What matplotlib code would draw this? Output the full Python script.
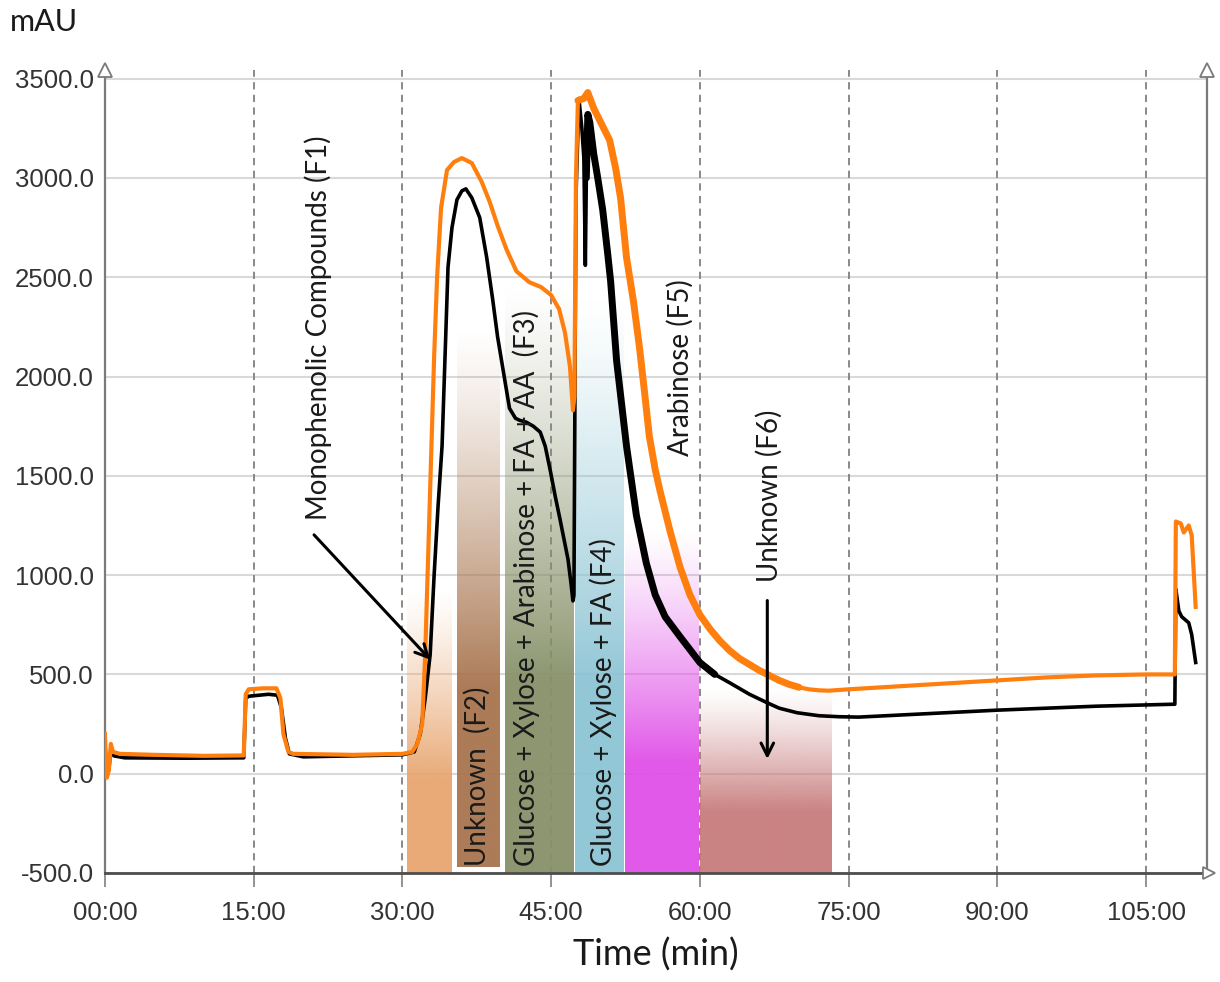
import matplotlib
matplotlib.use("Agg")
import matplotlib.pyplot as plt
import numpy as np

# chromatogram traces (time in min, absorbance in mAU)
black_t = [0, 0.2, 0.4, 0.6, 0.9, 2, 8, 14.0, 14.2, 14.5, 16.5, 17.4, 17.8, 18.2, 18.6, 20, 30,
           31.2, 31.8, 32.3, 32.8, 33.2, 33.6, 34.0, 34.3, 34.6, 35.0, 35.5, 36.0, 36.4, 37.0,
           37.8, 38.5, 39.1, 39.6, 40.1, 40.8, 41.4, 41.8, 42.5, 43.2, 43.9, 44.4, 44.9, 45.4,
           45.9, 46.3, 46.7, 47.0, 47.2, 47.3, 47.5, 47.8, 48.1, 48.3, 48.45, 48.55, 48.7, 48.9,
           49.3, 49.7, 50.2, 50.7, 51.0, 51.6, 52.6, 53.6, 54.6, 55.5, 56.5, 58.0, 60.0, 61.5,
           63.0, 65.0, 66.8, 68.0, 69.8, 72.0, 74.0, 76.0, 80.0, 90.0, 100.0, 107.9, 108.0,
           108.3, 108.6, 109.3, 109.6, 110.0]
black_v = [150, -10, 20, 130, 90, 80, 78, 80, 380, 390, 400, 395, 330, 180, 100, 85, 95,
           110, 200, 380, 600, 1000, 1350, 1650, 2100, 2550, 2750, 2890, 2935, 2945, 2900,
           2800, 2600, 2390, 2200, 2050, 1840, 1790, 1780, 1770, 1750, 1720, 1650, 1530, 1400,
           1280, 1180, 1080, 960, 870, 900, 2900, 3400, 3250, 3100, 2560, 3000, 3320, 3280,
           3120, 3000, 2840, 2620, 2480, 2080, 1650, 1300, 1060, 900, 790, 690, 560, 500,
           458, 400, 357, 330, 307, 292, 287, 285, 295, 320, 340, 350, 930,
           820, 790, 760, 700, 560]

orange_t = [0, 0.1, 0.2, 0.4, 0.6, 0.8, 1.5, 5, 10, 14.0, 14.2, 14.5, 16, 17.3, 17.7, 18.0, 18.5,
            19, 25, 30, 31.0, 31.5, 32.0, 32.3, 32.6, 32.9, 33.2, 33.5, 33.9, 34.5, 35.2, 36.0,
            37.0, 38.0, 38.8, 39.6, 40.5, 41.5, 42.8, 44.0, 45.0, 45.8, 46.4, 46.9, 47.2, 47.35,
            47.5, 47.7, 48.3, 48.7, 49.3, 50.0, 50.9, 51.5, 52.0, 52.6, 53.3, 53.9, 54.4, 54.9,
            55.5, 56.0, 57.0, 58.0, 59.0, 60.0, 61.0, 62.0, 63.0, 64.0, 65.0, 66.0, 67.0, 68.0,
            69.0, 70.0, 71.0, 72.0, 73.0, 75.0, 80.0, 85.0, 90.0, 95.0, 100.0, 105.0, 107.9,
            108.0, 108.5, 108.8, 109.3, 109.6, 110.0]
orange_v = [200, 60, -20, 20, 150, 110, 100, 95, 90, 92, 400, 425, 430, 430, 380, 200, 110,
            100, 95, 100, 110, 150, 250, 600, 1100, 1600, 2100, 2500, 2850, 3040, 3080, 3100,
            3075, 2980, 2880, 2760, 2640, 2530, 2475, 2450, 2410, 2340, 2220, 2050, 1830, 1900,
            3000, 3390, 3400, 3430, 3350, 3280, 3190, 3050, 2900, 2600, 2380, 2150, 1930, 1700,
            1530, 1420, 1220, 1040, 900, 800, 730, 670, 620, 580, 550, 520, 495, 470,
            450, 435, 425, 420, 418, 425, 440, 455, 470, 485, 495, 500, 500,
            1270, 1260, 1215, 1250, 1200, 840]

# fractions (shaded bands)
frac_start = [30.5, 35.5, 40.3, 47.4, 52.4, 60.0]
frac_end = [35.0, 39.8, 47.2, 52.3, 59.8, 73.3]
frac_top = [925, 2240, 2460, 2400, 1230, 430]
frac_bottom = [-500, -470, -520, -520, -520, -500]
frac_colors = ["#E8A670", "#A8744E", "#879169", "#8CC4D4", "#E050E8", "#C87C7C"]

# labels: text, x (min), lower end of the rotated text (mAU)
label_text = ["Monophenolic Compounds (F1)", "Unknown  (F2)",
              "Glucose + Xylose + Arabinose + FA + AA  (F3)",
              "Glucose + Xylose + FA (F4)", "Arabinose (F5)", "Unknown (F6)"]
label_x = [21.5, 37.6, 42.5, 50.3, 58.0, 67.0]
label_y = [1280, -465, -465, -465, 1600, 965]

x_ticks = [0, 15, 30, 45, 60, 75, 90, 105]
x_ticklabels = ["00:00", "15:00", "30:00", "45:00", "60:00", "75:00", "90:00", "105:00"]
y_ticks = [-500, 0, 500, 1000, 1500, 2000, 2500, 3000, 3500]

fig = plt.figure(figsize=(12.2, 9.82), dpi=100)
ax = fig.add_axes([0.086, 0.111, 0.903, 0.818])
ax.set_xlim(0, 111.1)
ax.set_ylim(-500, 3545)

# gradient bands
for x0, x1, top, bot, c in zip(frac_start, frac_end, frac_top, frac_bottom, frac_colors):
    rgb = matplotlib.colors.to_rgb(c)
    n = 200
    ramp = np.linspace(0, 1, n)[:, None]          # 0 at top, 1 at bottom
    img = np.zeros((n, 1, 4))
    img[..., :3] = rgb
    img[..., 3] = np.clip(ramp * 1.5, 0, 1) ** 1.2 * 0.95
    ax.imshow(img, extent=(x0, x1, bot, top), aspect="auto", origin="upper",
              interpolation="bilinear", zorder=1)

# grid
for yv in y_ticks:
    ax.axhline(yv, color="#d9d9d9", lw=1.5, zorder=0.5)
for xv in x_ticks[1:]:
    ax.axvline(xv, color="#808080", lw=1.3, ls=(0, (4, 3)), zorder=0.6)

bt = np.array(black_t)
bv = np.array(black_v)
ot = np.array(orange_t)
ov = np.array(orange_v)
ax.plot(bt, bv, color="black", lw=2.6, zorder=3)
m = (bt >= 48.5) & (bt <= 61.5)
ax.plot(bt[m], bv[m], color="black", lw=5.0, zorder=3, solid_capstyle="round")
ax.plot(ot, ov, color="#FF7F0E", lw=3.0, zorder=4)
m = (ot >= 47.6) & (ot <= 70)
ax.plot(ot[m], ov[m], color="#FF7F0E", lw=5.0, zorder=4, solid_capstyle="round")

# annotations
lab_font = dict(family=["Lato", "DejaVu Sans"], fontsize=20, color="#1a1a1a")
for txt, xx, yy in zip(label_text, label_x, label_y):
    ax.text(xx, yy, txt, rotation=90, ha="center", va="bottom", zorder=6, **lab_font)

arrow_kw = dict(arrowstyle="->,head_length=0.9,head_width=0.45", color="black", lw=2.2)
ax.annotate("", xy=(33.0, 564), xytext=(20.9, 1213), arrowprops=arrow_kw, zorder=6)
ax.annotate("", xy=(66.8, 60), xytext=(66.8, 886), arrowprops=arrow_kw, zorder=6)

# axes styling
ax.spines["top"].set_visible(False)
ax.spines["left"].set_color("#7a7a7a")
ax.spines["right"].set_color("#7a7a7a")
ax.spines["left"].set_linewidth(1.6)
ax.spines["right"].set_linewidth(1.6)
ax.spines["bottom"].set_color("#4d4d4d")
ax.spines["bottom"].set_linewidth(2.0)

ax.set_xticks(x_ticks)
ax.set_xticklabels(x_ticklabels)
ax.set_yticks(y_ticks)
ax.set_yticklabels([f"{v:.1f}" for v in y_ticks])
ax.tick_params(axis="x", length=10, width=1.2, color="#808080", pad=10)
ax.tick_params(axis="y", length=0, pad=8)
for lab in ax.get_xticklabels() + ax.get_yticklabels():
    lab.set_fontfamily("Liberation Sans")
    lab.set_fontsize(18.5)
    lab.set_color("#333333")

# hollow arrow heads on the axis ends
ax.plot([0], [1], marker="^", ms=10, mfc="white", mec="#7a7a7a", mew=1.3,
        transform=ax.transAxes, clip_on=False, zorder=7)
ax.plot([1], [1], marker="^", ms=10, mfc="white", mec="#7a7a7a", mew=1.3,
        transform=ax.transAxes, clip_on=False, zorder=7)
ax.plot([1.002], [0], marker=">", ms=9, mfc="white", mec="#7a7a7a", mew=1.3,
        transform=ax.transAxes, clip_on=False, zorder=7)

fig.text(0.008, 0.992, "mAU", fontsize=22, family=["Lato", "DejaVu Sans"], va="top", color="#1a1a1a")
ax.set_xlabel("Time (min)", fontsize=26, family=["Lato", "DejaVu Sans"], color="#1a1a1a", labelpad=9)

fig.savefig("out.png", dpi=100)
